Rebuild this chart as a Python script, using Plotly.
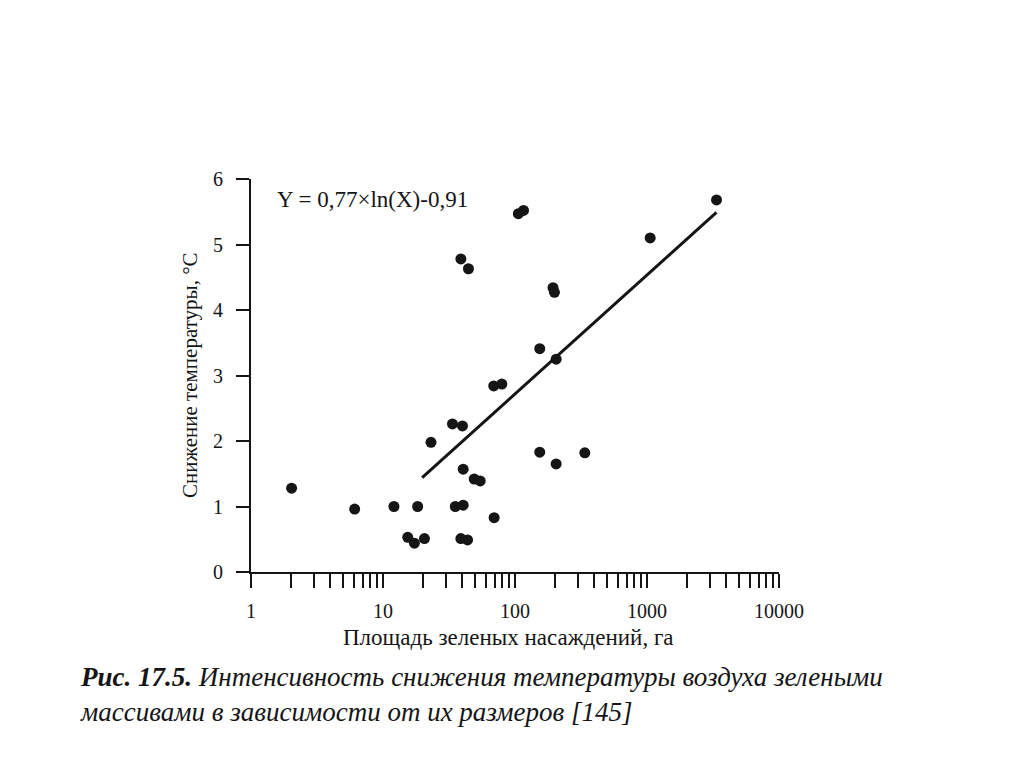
import plotly.graph_objects as go

# Scatter data: area of green spaces (ha) vs temperature drop (°C)
area_ha = [2.03, 6.1, 12.1, 18.3, 15.4, 17.3, 20.6, 23.1, 33.6, 40.0, 35.3, 40.5,
           38.9, 43.7, 38.9, 44.4, 40.5, 49.1, 54.5, 69.5, 69.0, 79.5, 106, 116,
           154, 154, 194, 199, 205, 205, 338, 1057, 3363]
temp_drop = [1.28, 0.96, 1.00, 1.00, 0.53, 0.44, 0.51, 1.98, 2.26, 2.23, 1.00, 1.02,
             0.51, 0.49, 4.78, 4.63, 1.57, 1.42, 1.39, 0.83, 2.84, 2.87, 5.47, 5.52,
             3.41, 1.83, 4.34, 4.27, 3.25, 1.65, 1.82, 5.10, 5.68]

# Regression line endpoints (Y = 0,77×ln(X)-0,91) as drawn
fit_x = [19.8, 3360]
fit_y = [1.44, 5.49]

x_decades = [1, 10, 100, 1000, 10000]
x_decade_labels = ["1", "10", "100", "1000", "10000"]
y_ticks = [0, 1, 2, 3, 4, 5, 6]

# all log ticks (1..9 per decade)
tickvals = []
ticktext = []
for i, d in enumerate(x_decades[:-1]):
    for m in range(1, 10):
        tickvals.append(d * m)
        ticktext.append(x_decade_labels[i] if m == 1 else "")
tickvals.append(x_decades[-1])
ticktext.append(x_decade_labels[-1])

SERIF = "Liberation Serif, Times New Roman, serif"
INK = "#151515"

fig = go.Figure()
fig.add_trace(go.Scatter(x=fit_x, y=fit_y, mode="lines",
                         line=dict(color=INK, width=3), showlegend=False))
fig.add_trace(go.Scatter(x=area_ha, y=temp_drop, mode="markers",
                         marker=dict(color=INK, size=11), showlegend=False))

# page has an 8px body margin; work in target-pixel coordinates
OFF = 8
FW, FH = 1024 - OFF, 767 - OFF
L, R, T, B = 251, 779, 179, 572
W, H = R - L, B - T

def px(xp):
    return (xp - L) / W

def py(yp):
    return (B - yp) / H

fig.update_layout(
    width=FW, height=FH,
    margin=dict(l=L - OFF, r=FW - (R - OFF), t=T - OFF, b=FH - (B - OFF), pad=0),
    paper_bgcolor="white", plot_bgcolor="white",
    font=dict(family=SERIF, color=INK, size=18),
    xaxis=dict(type="log", range=[0, 4], tickvals=tickvals, ticktext=ticktext,
               ticks="outside", ticklen=14, tickwidth=2, tickcolor=INK,
               showline=True, linewidth=2, linecolor=INK, showgrid=False,
               zeroline=False, ticklabelstandoff=6,
               tickfont=dict(family=SERIF, size=20, color=INK)),
    yaxis=dict(range=[0, 6], tickvals=y_ticks,
               ticks="outside", ticklen=13, tickwidth=2, tickcolor=INK,
               showline=True, linewidth=2, linecolor=INK, showgrid=False,
               zeroline=False, ticklabelstandoff=9,
               tickfont=dict(family=SERIF, size=20, color=INK)),
)

annos = [
    dict(x=px(275), y=py(199), text="Y = 0,77×ln(X)-0,91", xanchor="left",
         yanchor="middle", font=dict(family=SERIF, size=23, color=INK)),
    dict(x=px(190), y=py(375), text="Снижение температуры, °С", textangle=-90,
         xanchor="center", yanchor="middle", font=dict(family=SERIF, size=21, color=INK)),
    dict(x=px(508), y=py(637), text="Площадь зеленых насаждений, га",
         xanchor="center", yanchor="middle", font=dict(family=SERIF, size=23, color=INK)),
    dict(x=px(78), y=py(694),
         text="<b>Рис. 17.5.</b> Интенсивность снижения температуры воздуха зелеными"
              "<br>массивами в зависимости от их размеров [145]",
         xanchor="left", yanchor="middle", align="left",
         font=dict(family=SERIF, size=27, color=INK, style="italic")),
]
for a in annos:
    a.update(xref="paper", yref="paper", showarrow=False)
    fig.add_annotation(**a)

fig.write_html("out.html")
